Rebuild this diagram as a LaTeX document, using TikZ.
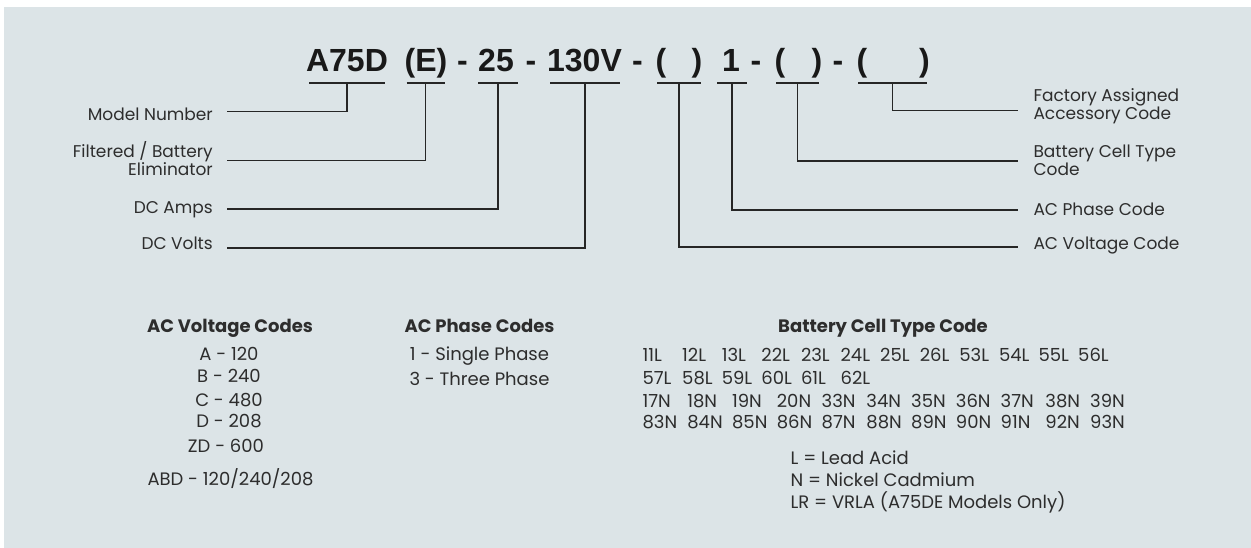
\documentclass[tikz,border=0pt]{standalone}
\usepackage{fontspec}
\setmainfont{Poppins}
\newfontfamily\partfont{Liberation Sans}
\definecolor{panel}{RGB}{220,228,231}
\definecolor{ink}{RGB}{45,45,45}
\begin{document}
\begin{tikzpicture}[x=1pt, y=-1pt,
    part/.style={font=\partfont\bfseries\fontsize{32}{32}\selectfont, inner sep=0pt, anchor=base, text=black!90},
    uline/.style={line width=1.6pt, draw=black!85},
    lead/.style={line width=1.6pt, draw=black!85},
    lbl/.style={font=\fontsize{17}{15.5}\selectfont, inner sep=0pt, text=ink},
    head/.style={font=\bfseries\fontsize{18}{18}\selectfont, inner sep=0pt, anchor=base, text=ink},
    entry/.style={font=\fontsize{18}{18}\selectfont, inner sep=0pt, text=ink}
  ]
  \useasboundingbox (0,0) rectangle (1251,548);
  \fill[panel] (4,7) rectangle (1251,548);

  % part number
  \node[part] (pmodel) at (347,72)   {A75D};
  \node[part] (pfilt)  at (426,72)   {(E)};
  \node[part] (dash1)  at (462.5,72) {-};
  \node[part] (pamps)  at (496,72)   {25};
  \node[part] (dash2)  at (531,72)   {-};
  \node[part] (pvolts) at (584.5,72) {130V};
  \node[part] (dash3)  at (637.5,72) {-};
  \node[part] (pacvo)  at (661,72)   {(};
  \node[part] (pacvc)  at (697,72)   {)};
  \node[part] (pphase) at (731,72)   {1};
  \node[part] (dash4)  at (756,72)   {-};
  \node[part] (pcello) at (780,72)   {(};
  \node[part] (pcellc) at (817,72)   {)};
  \node[part] (dash5)  at (838,72)   {-};
  \node[part] (pacco)  at (862,72)   {(};
  \node[part] (paccc)  at (924.5,72) {)};

  % underlines
  \foreach \name/\x/\w in {umodel/347/76, ufilt/425.5/38, uamps/498/40, uvolts/585/70,
                           uacv/679/44, uphase/732/30, ucell/797.5/43, uacc/892.5/69}{
    \coordinate (\name) at (\x,83.3);
    \draw[uline] ([xshift=-\w/2]\name) -- ([xshift=\w/2]\name);
  }

  % lead ends
  \coordinate (emodel) at (227,111.5);
  \coordinate (efilt)  at (227,160.7);
  \coordinate (eamps)  at (227,209.3);
  \coordinate (evolts) at (227,248);
  \coordinate (eacc)   at (1018.3,110.7);
  \coordinate (ecell)  at (1018.3,161);
  \coordinate (ephase) at (1018.3,210);
  \coordinate (eacv)   at (1018.3,247);

  \draw[lead] (umodel) |- (emodel);
  \draw[lead] (ufilt)  |- (efilt);
  \draw[lead] (uamps)  |- (eamps);
  \draw[lead] (uvolts) |- (evolts);
  \draw[lead] (uacv)   |- (eacv);
  \draw[lead] (uphase) |- (ephase);
  \draw[lead] (ucell)  |- (ecell);
  \draw[lead] (uacc)   |- (eacc);

  % labels (base = last line)
  \node[lbl, anchor=base east] (lmodel) at (213,120.7) {Model Number};
  \node[lbl, anchor=base east, align=right] (lfilt) at (213,176) {Filtered / Battery\\Eliminator};
  \node[lbl, anchor=base east] (lamps)  at (213,213.3) {DC Amps};
  \node[lbl, anchor=base east] (lvolts) at (213,250)   {DC Volts};
  \node[lbl, anchor=base west, align=left] (lacc)  at (1033.3,120) {Factory Assigned\\Accessory Code};
  \node[lbl, anchor=base west, align=left] (lcell) at (1033.3,176) {Battery Cell Type\\Code};
  \node[lbl, anchor=base west] (lphase) at (1033.3,215.7) {AC Phase Code};
  \node[lbl, anchor=base west] (lacv)   at (1033.3,250)   {AC Voltage Code};

  % code tables
  \node[head] (hacv) at (230,332.7) {AC Voltage Codes};
  \node[entry, anchor=base] (va)   at (229,360.7) {A - 120};
  \node[entry, anchor=base] (vb)   at (229,382.7) {B - 240};
  \node[entry, anchor=base] (vc)   at (229,406)   {C - 480};
  \node[entry, anchor=base] (vd)   at (229,427.3) {D - 208};
  \node[entry, anchor=base] (vzd)  at (226,452.7) {ZD - 600};
  \node[entry, anchor=base] (vabd) at (230.5,485) {ABD - 120/240/208};

  \node[head] (hphase) at (479.5,332.7) {AC Phase Codes};
  \node[entry, anchor=base] (ph1) at (479.5,360) {1 - Single Phase};
  \node[entry, anchor=base] (ph3) at (479.5,385) {3 - Three Phase};

  \node[head] (hcell) at (883,332) {Battery Cell Type Code};
  \foreach \c [count=\i from 0] in {11L,12L,13L,22L,23L,24L,25L,26L,53L,54L,55L,56L}
    \node[entry, anchor=base west] (c\c) at (642.4+39.6*\i,361.7) {\c};
  \foreach \c [count=\i from 0] in {57L,58L,59L,60L,61L,62L}
    \node[entry, anchor=base west] (c\c) at (642.4+39.6*\i,384) {\c};
  \foreach \c [count=\i from 0] in {17N,18N,19N,20N,33N,34N,35N,36N,37N,38N,39N}
    \node[entry, anchor=base west] (c\c) at (642.4+44.76*\i,407) {\c};
  \foreach \c [count=\i from 0] in {83N,84N,85N,86N,87N,88N,89N,90N,91N,92N,93N}
    \node[entry, anchor=base west] (c\c) at (642.4+44.76*\i,428.5) {\c};

  \node[entry, anchor=base west] (klead) at (790.5,464)   {L = Lead Acid};
  \node[entry, anchor=base west] (knick) at (790.5,486)   {N = Nickel Cadmium};
  \node[entry, anchor=base west] (kvrla) at (790.5,508.5) {LR = VRLA (A75DE Models Only)};

\end{tikzpicture}
\end{document}
